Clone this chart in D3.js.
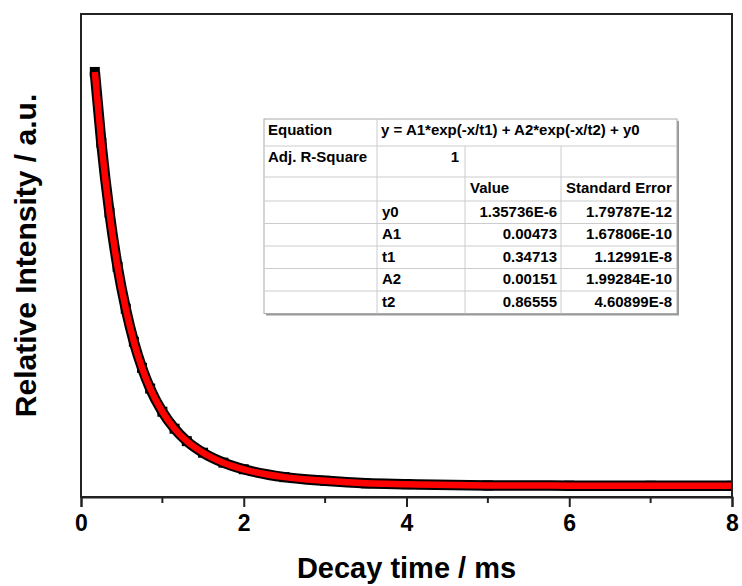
<!DOCTYPE html>
<html>
<head>
<meta charset="utf-8">
<script src="https://cdn.jsdelivr.net/npm/d3@7"></script>
<style>
	body { margin: 0; background: #fff; }
	text { font-family: "Liberation Sans", Arial, sans-serif; font-weight: bold; fill: #000; }
</style>
</head>
<body>
<svg id="svg"></svg>
<script>
// decay data (normalised intensity)
const decayTime = [0.17, 0.25, 0.35, 0.45, 0.55, 0.65, 0.75, 0.85, 1.0, 1.15, 1.3, 1.5, 1.75, 2.0, 2.5, 3.0, 3.5, 4.0, 5.0, 6.0, 7.0, 8.0];
const intensity = [1.000, 0.829, 0.660, 0.529, 0.428, 0.348, 0.285, 0.235, 0.179, 0.138, 0.108, 0.080, 0.056, 0.040, 0.021, 0.012, 0.006, 0.004, 0.001, 0.0004, 0.0001, 0.0];

const xTicks = [0, 2, 4, 6, 8];
const xMinorTicks = [1, 3, 5, 7];

// fit results table
const equationText = 'y = A1*exp(-x/t1) + A2*exp(-x/t2) + y0';
const adjRSquare = '1';
const paramNames = ['y0', 'A1', 't1', 'A2', 't2'];
const paramValues = ['1.35736E-6', '0.00473', '0.34713', '0.00151', '0.86555'];
const paramErrors = ['1.79787E-12', '1.67806E-10', '1.12991E-8', '1.99284E-10', '4.60899E-8'];

const width = 742;
const height = 586;
const margin = {left: 81, right: 10, top: 14, bottom: 89};
const plotW = width - margin.left - margin.right;
const plotH = height - margin.top - margin.bottom;

const svg = d3.select('#svg').attr('width', width).attr('height', height);

const x = d3.scaleLinear().domain([0, 8]).range([margin.left, margin.left + plotW]);
const y = d3.scaleLinear().domain([-0.027, 1.14]).range([margin.top + plotH, margin.top]);

svg.append('clipPath')
	.attr('id', 'plot-clip')
	.append('rect')
	.attr('x', margin.left)
	.attr('y', margin.top)
	.attr('width', plotW)
	.attr('height', plotH);

const points = decayTime.map((t, i) => ({t: t, v: intensity[i]}));
const line = d3.line()
	.x(d => x(d.t))
	.y(d => y(d.v))
	.curve(d3.curveMonotoneX);

const plotG = svg.append('g').attr('clip-path', 'url(#plot-clip)');

// measured data: thick black band of square markers
plotG.append('path')
	.datum(points)
	.attr('d', line)
	.attr('fill', 'none')
	.attr('stroke', '#000')
	.attr('stroke-width', 10.5);

plotG.selectAll('rect.pt')
	.data(points)
	.enter()
	.append('rect')
	.attr('class', 'pt')
	.attr('x', d => x(d.t) - 5)
	.attr('y', d => y(d.v) - 5)
	.attr('width', 10)
	.attr('height', 10)
	.attr('fill', '#000');

// fit line
plotG.append('path')
	.datum(points)
	.attr('d', line)
	.attr('fill', 'none')
	.attr('stroke', '#ff0000')
	.attr('stroke-width', 6.5);

// frame
svg.append('rect')
	.attr('x', margin.left)
	.attr('y', margin.top)
	.attr('width', plotW)
	.attr('height', plotH)
	.attr('fill', 'none')
	.attr('stroke', '#222')
	.attr('stroke-width', 2);

// bottom axis
const xAxisG = svg.append('g')
	.attr('transform', `translate(0, ${margin.top + plotH})`);
xAxisG.call(d3.axisBottom(x).tickValues(xTicks).tickSize(10).tickPadding(8).tickFormat(d3.format('d')));
xAxisG.select('.domain').attr('stroke', '#222').attr('stroke-width', 2);
xAxisG.selectAll('.tick line').attr('stroke', '#222').attr('stroke-width', 2);
xAxisG.selectAll('.tick text')
	.attr('font-size', 23)
	.attr('font-family', '"Liberation Sans", Arial, sans-serif')
	.attr('font-weight', 'bold')
	.attr('fill', '#000');

xAxisG.selectAll('line.minor')
	.data(xMinorTicks)
	.enter()
	.append('line')
	.attr('class', 'minor')
	.attr('x1', d => x(d))
	.attr('x2', d => x(d))
	.attr('y1', 0)
	.attr('y2', 6)
	.attr('stroke', '#222')
	.attr('stroke-width', 2);

// axis titles
svg.append('text')
	.attr('x', margin.left + plotW / 2)
	.attr('y', 578)
	.attr('text-anchor', 'middle')
	.attr('font-size', 29)
	.text('Decay time / ms');

svg.append('text')
	.attr('transform', `translate(36, ${margin.top + plotH / 2}) rotate(-90)`)
	.attr('text-anchor', 'middle')
	.attr('font-size', 30)
	.text('Relative Intensity / a.u.');

// fit table
const colX = [264, 377, 465, 561, 677];
const rowY = [119, 146, 177, 201, 223.5, 246, 268.5, 291, 313.5];
const tableG = svg.append('g').attr('class', 'fit-table');

tableG.append('rect')
	.attr('x', colX[0] + 2)
	.attr('y', rowY[0] + 2)
	.attr('width', colX[4] - colX[0])
	.attr('height', rowY[8] - rowY[0])
	.attr('fill', '#999');
tableG.append('rect')
	.attr('x', colX[0])
	.attr('y', rowY[0])
	.attr('width', colX[4] - colX[0])
	.attr('height', rowY[8] - rowY[0])
	.attr('fill', '#fff')
	.attr('stroke', '#aaa')
	.attr('stroke-width', 1);

// row lines
tableG.selectAll('line.row')
	.data(rowY.slice(1, -1))
	.enter()
	.append('line')
	.attr('class', 'row')
	.attr('x1', colX[0])
	.attr('x2', colX[4])
	.attr('y1', d => d)
	.attr('y2', d => d)
	.attr('stroke', '#ccc');

// column lines (2nd and 3rd start below the equation row)
tableG.selectAll('line.col')
	.data([1, 2, 3])
	.enter()
	.append('line')
	.attr('class', 'col')
	.attr('x1', i => colX[i])
	.attr('x2', i => colX[i])
	.attr('y1', i => i === 1 ? rowY[0] : rowY[1])
	.attr('y2', rowY[8])
	.attr('stroke', '#ccc');

const cell = (txt, xPos, yPos, anchor) => tableG.append('text')
	.attr('x', xPos)
	.attr('y', yPos)
	.attr('text-anchor', anchor)
	.attr('font-size', 15)
	.text(txt);

cell('Equation', colX[0] + 4, rowY[0] + 16, 'start');
cell(equationText, colX[1] + 4, rowY[0] + 16, 'start');
cell('Adj. R-Square', colX[0] + 4, rowY[1] + 16, 'start');
cell(adjRSquare, colX[2] - 6, rowY[1] + 16, 'end');
cell('Value', colX[2] + 5, rowY[2] + 15.5, 'start');
cell('Standard Error', colX[3] + 5, rowY[2] + 15.5, 'start');

paramNames.forEach((name, i) => {
	const base = rowY[i + 3] + 15.5;
	cell(name, colX[1] + 5, base, 'start');
	cell(paramValues[i], colX[3] - 4, base, 'end');
	cell(paramErrors[i], colX[4] - 5, base, 'end');
});
</script>
</body>
</html>
